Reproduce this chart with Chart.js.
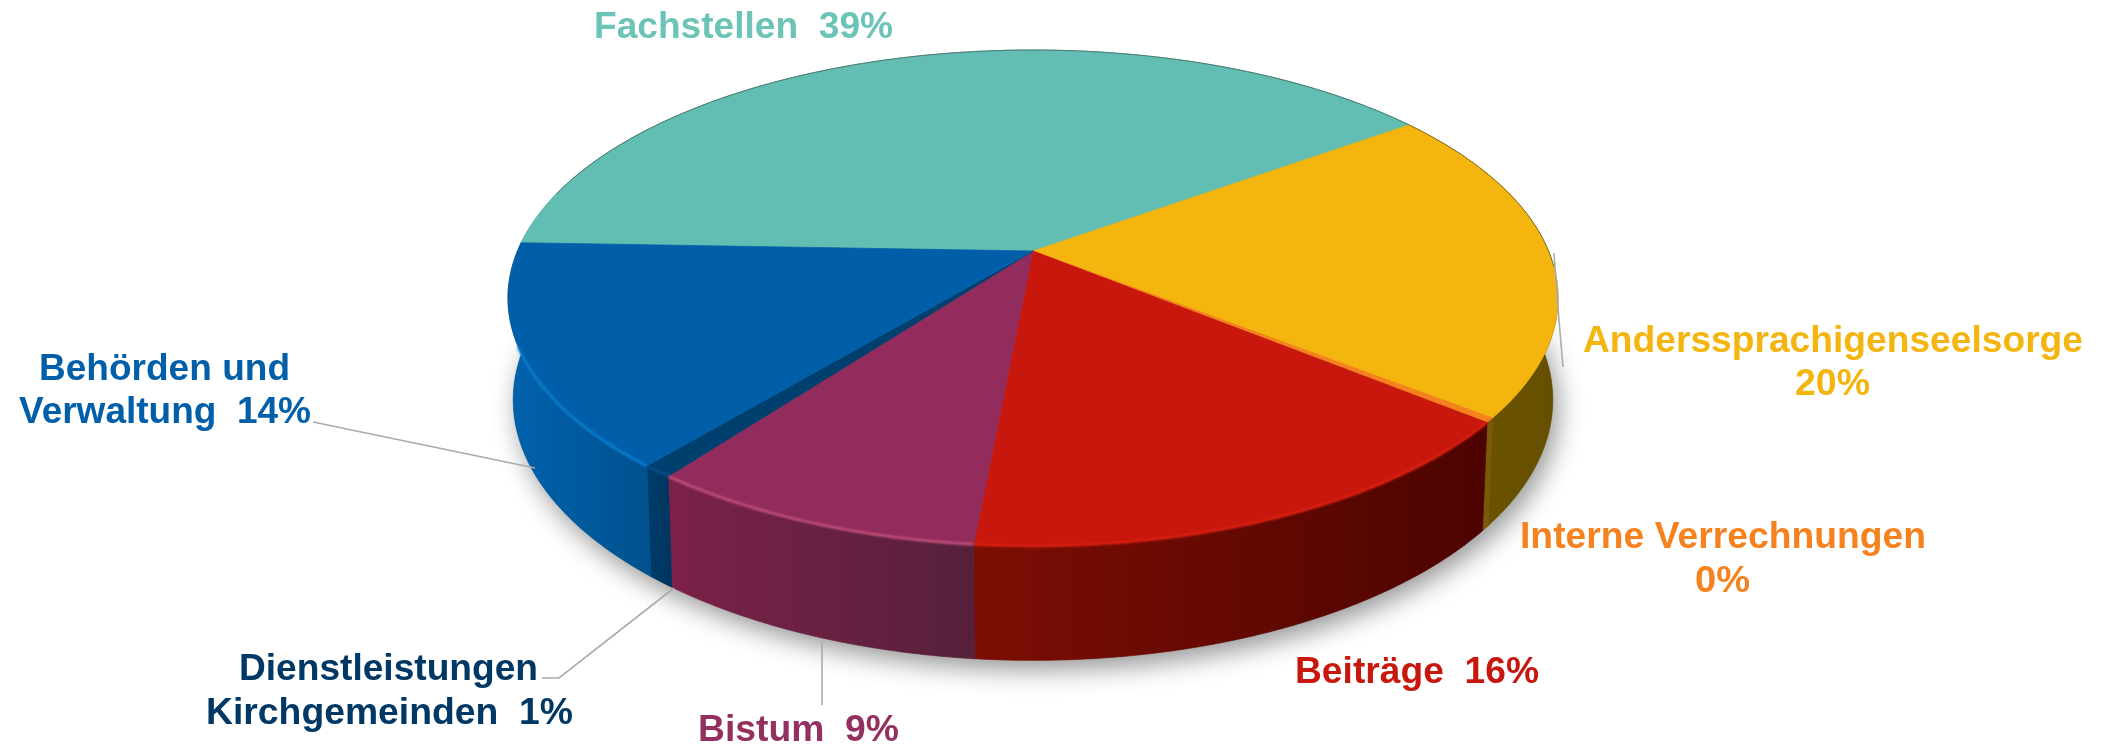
<!DOCTYPE html>
<html><head><meta charset="utf-8">
<style>html,body{margin:0;padding:0;background:#fff;overflow:hidden}canvas{display:block}</style>
<script src="https://cdn.jsdelivr.net/npm/chart.js@4/dist/chart.umd.min.js"></script>
</head><body>
<canvas id="c" width="2113" height="745"></canvas>
<script>
const categories = ["Fachstellen","Anderssprachigenseelsorge","Interne Verrechnungen","Beiträge","Bistum","Dienstleistungen Kirchgemeinden","Behörden und Verwaltung"];
const shares = [39.2,20.4,0.3,15.5,8.7,0.8,14.4];
const topColors = ["#62bdb2","#f4b50e","#f5821e","#c8170d","#922c5c","#00406f","#005fa8"];
const wallLeft  = ["#4f9a90","#6f5400","#7a5a08","#7c0e04","#7d2149","#003c6a","#0062ad"];
const wallRight = ["#4f9a90","#655000","#7a5a08","#4c0400","#55203a","#003560","#00528f"];
const rimColors = ["#62bdb2","#f4b50e","#f5821e","#dc2012","#c4527f","#00508a","#0a80d2"];
// [text, left x, right x, baseline y, colour]
const labelLines = [
 ["Fachstellen  39%",594,893,38,"#6cc4b7"],
 ["Anderssprachigenseelsorge",1583,2083,352,"#f5b50f"],
 ["20%",1795,1870,395,"#f5b50f"],
 ["Interne Verrechnungen",1520,1926,548,"#f5821e"],
 ["0%",1695,1750,592,"#f5821e"],
 ["Beiträge  16%",1295,1539,683,"#c8170d"],
 ["Bistum  9%",698,899,741,"#94305f"],
 ["Dienstleistungen",239,538,680,"#003865"],
 ["Kirchgemeinden  1%",206,573,724,"#003865"],
 ["Behörden und",39,290,380,"#005fa8"],
 ["Verwaltung  14%",19,311,423,"#005fa8"]
];
const leaderLines = [
 [[1554,253],[1559,320],[1563,367]],
 [[313,422],[535,468]],
 [[542,678],[559,678],[674,588]],
 [[822,641],[822,705]]
];

// perspective projection of the pie disc
const P = {x0:1033,yApex:251,a:191.5,c:515.5,p:0.1895,yMid:298,
  sx:0.99,sy:1.05,dy:102};
function proj(t){const u=Math.cos(t),v=Math.sin(t),w=1-P.p*v;
  return [P.x0+P.c*u/w,(P.a*v+P.yApex)/w];}
function low(q){return [P.x0+P.sx*(q[0]-P.x0),P.yMid+P.sy*(q[1]-P.yMid)+P.dy];}
function samples(a,b){const n=Math.max(2,Math.ceil((b-a)/0.01));const r=[];
  for(let i=0;i<=n;i++)r.push(a+(b-a)*i/n);return r;}
function poly(ctx,pts){ctx.beginPath();pts.forEach((q,i)=>i?ctx.lineTo(q[0],q[1]):ctx.moveTo(q[0],q[1]));ctx.closePath();}
function proj0(){return [P.x0,P.yApex];}

const pie3d = {
 id:'pie3d',
 beforeDatasetsDraw(chart){
  const ctx=chart.ctx, arcs=chart.getDatasetMeta(0).data;
  ctx.save();
  // soft shadow under the pie
  const whole=samples(0,Math.PI*2).map(t=>low(proj(t)));
  ctx.save();ctx.shadowColor='rgba(0,0,0,0.42)';ctx.shadowBlur=26;ctx.shadowOffsetX=5;ctx.shadowOffsetY=9;
  ctx.fillStyle='#888';poly(ctx,whole);ctx.fill();ctx.restore();
  // walls
  arcs.forEach((arc,i)=>{
   const ts=samples(arc.startAngle,arc.endAngle);
   const top=ts.map(proj), bot=top.map(low);
   const g=ctx.createLinearGradient(Math.min(...top.map(q=>q[0])),0,Math.max(...top.map(q=>q[0])),0);
   g.addColorStop(0,wallLeft[i]);g.addColorStop(1,wallRight[i]);
   ctx.fillStyle=g;ctx.strokeStyle=g;ctx.lineWidth=0.7;
   poly(ctx,top.concat(bot.slice().reverse()));ctx.fill();ctx.stroke();
  });
  // top faces
  arcs.forEach((arc,i)=>{
   const pts=samples(arc.startAngle,arc.endAngle).map(proj);
   pts.push(proj0());
   ctx.fillStyle=topColors[i];ctx.strokeStyle=topColors[i];ctx.lineWidth=0.7;
   poly(ctx,pts);ctx.fill();ctx.stroke();
  });
  // rim highlight on the front edge, dark hairline on the back edge
  arcs.forEach((arc,i)=>{
   if(i<3)return;
   const pts=samples(arc.startAngle,arc.endAngle).filter(t=>Math.abs(Math.cos(t))<0.93).map(proj);
   ctx.beginPath();pts.forEach((q,k)=>k?ctx.lineTo(q[0],q[1]):ctx.moveTo(q[0],q[1]));
   ctx.save();ctx.strokeStyle=rimColors[i];ctx.lineWidth=2.5;ctx.filter='blur(0.8px)';
   ctx.stroke();
   ctx.restore();
  });
  const back=samples(Math.PI*1.08,Math.PI*2.02).map(proj);
  ctx.beginPath();back.forEach((q,k)=>k?ctx.lineTo(q[0],q[1]):ctx.moveTo(q[0],q[1]));
  ctx.strokeStyle='rgba(60,70,60,0.55)';ctx.lineWidth=1;ctx.stroke();
  ctx.restore();
  return false;
 },
 afterDraw(chart){
  const ctx=chart.ctx;ctx.save();
  ctx.strokeStyle='#ababab';ctx.lineWidth=1.6;
  leaderLines.forEach(l=>{ctx.beginPath();l.forEach((q,i)=>i?ctx.lineTo(q[0],q[1]):ctx.moveTo(q[0],q[1]));ctx.stroke();});
  ctx.textAlign='left';ctx.textBaseline='alphabetic';
  ctx.font='bold 36px "Liberation Sans", Arial, sans-serif';
  labelLines.forEach(([t,x0,x1,y,col])=>{
   const w=ctx.measureText(t).width;
   ctx.save();ctx.translate(x0,y);ctx.scale((x1-x0)/w,1);ctx.fillStyle=col;ctx.fillText(t,0,0);ctx.restore();
  });
  ctx.restore();
 }
};

new Chart(document.getElementById('c'),{
 type:'pie',
 data:{labels:categories,datasets:[{data:shares,backgroundColor:topColors,borderWidth:0}]},
 options:{responsive:false,animation:false,rotation:-88,
  plugins:{legend:{display:false},tooltip:{enabled:false}}},
 plugins:[pie3d]
});
</script>
</body></html>
